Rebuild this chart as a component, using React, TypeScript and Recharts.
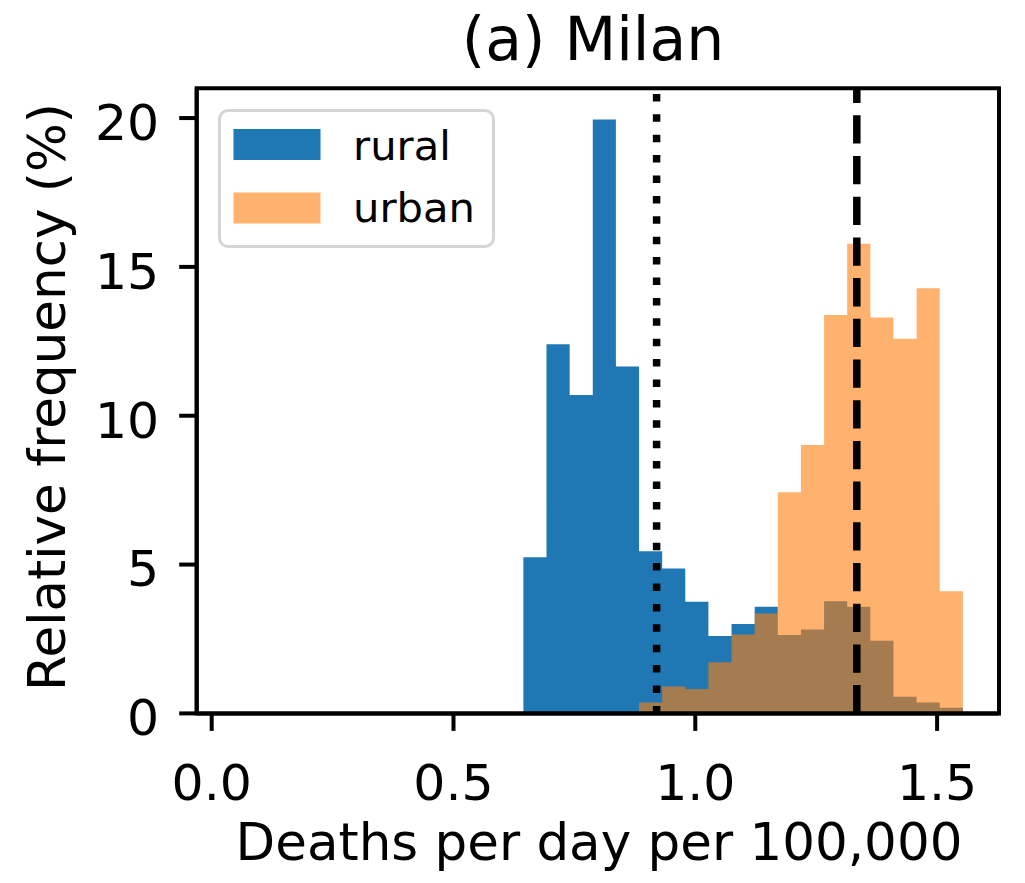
import React from 'react';
import {
  ComposedChart,
  Area,
  XAxis,
  YAxis,
  ReferenceLine,
  ReferenceArea,
  Legend,
} from 'recharts';

// ---- data ----
const binEdges = [
  0.6445, 0.6923, 0.7402, 0.788, 0.8358, 0.8837, 0.9315, 0.9793, 1.0271, 1.075,
  1.1228, 1.1706, 1.2185, 1.2663, 1.3141, 1.362, 1.4098, 1.4576, 1.5054, 1.5533,
];
const ruralPct = [
  5.25, 12.4, 10.7, 19.95, 11.65, 5.45, 4.87, 3.75, 2.6, 3.0, 3.58, 2.63, 2.82, 3.77,
  3.58, 2.44, 0.56, 0.37, 0.19,
];
const urbanPct = [
  0, 0, 0, 0, 0, 0.37, 0.9, 0.82, 1.72, 2.65, 3.36, 7.43, 9.02, 13.38, 15.78, 13.3,
  12.59, 14.28, 4.1,
];
const seriesNames = ['rural', 'urban'];
const xTicks = [0, 0.5, 1.0, 1.5];
const yTicks = [0, 5, 10, 15, 20];
const ruralMarker = 0.92;
const urbanMarker = 1.334;
const XMIN = -0.031;
const XMAX = 1.628;
const YMAX = 21;

const TITLE = '(a) Milan';
const XLABEL = 'Deaths per day per 100,000';
const YLABEL = 'Relative frequency (%)';

const rows = binEdges.map((x, i) => ({
  x,
  rural: ruralPct[i] ?? 0,
  urban: urbanPct[i] ?? 0,
}));

const BLUE = '#1f77b4';
const ORANGE = '#ff7f0e';
const FONT = 'DejaVu Sans';

const W = 1025;
const H = 883;

function LegendBox() {
  const colors = [BLUE, ORANGE];
  const opac = [1, 0.6];
  return (
    <div
      style={{
        position: 'relative',
        width: 277.5,
        height: 139,
        boxSizing: 'border-box',
        border: '3px solid #d5d5d5',
        borderRadius: 10,
        background: 'rgba(255,255,255,0.8)',
      }}
    >
      <svg
        width={277.5}
        height={139}
        style={{ position: 'absolute', left: -3, top: -3, overflow: 'visible' }}
      >
        {seriesNames.map((name, i) => (
          <g key={name}>
            <rect
              x={15.5}
              y={20 + i * 63.5}
              width={87}
              height={31}
              fill={colors[i]}
              fillOpacity={opac[i]}
            />
            <text
              x={135}
              y={51 + i * 62.2}
              fontSize={41.7}
              fontFamily={FONT}
              fill="#000"
            >
              {name}
            </text>
          </g>
        ))}
      </svg>
    </div>
  );
}

export default function App() {
  return (
    <div
      style={{
        position: 'absolute',
        left: 0,
        top: 0,
        width: W,
        height: H,
        background: '#fff',
        fontFamily: FONT,
      }}
    >
      <ComposedChart
        width={W}
        height={H}
        data={rows}
        margin={{ top: 88.3, right: 26, left: 0, bottom: 0 }}
      >
        <XAxis
          dataKey="x"
          type="number"
          domain={[XMIN, XMAX]}
          allowDataOverflow
          ticks={xTicks}
          tickFormatter={(v: number) => v.toFixed(1)}
          height={169.6}
          tickSize={17.5}
          tickMargin={33}
          axisLine={{ stroke: '#000', strokeWidth: 4 }}
          tickLine={{ stroke: '#000', strokeWidth: 4 }}
          tick={{ fill: '#000', fontSize: 50.5, fontFamily: FONT }}
          interval={0}
        />
        <YAxis
          type="number"
          domain={[0, YMAX]}
          allowDataOverflow
          ticks={yTicks}
          width={196.7}
          tickSize={17.5}
          tickMargin={20}
          axisLine={{ stroke: '#000', strokeWidth: 4 }}
          tickLine={{ stroke: '#000', strokeWidth: 4 }}
          tick={{ fill: '#000', fontSize: 50.5, fontFamily: FONT, dy: 4 }}
          interval={0}
        />
        <Area
          type="stepAfter"
          dataKey="rural"
          name={seriesNames[0]}
          fill={BLUE}
          fillOpacity={1}
          stroke="none"
          dot={false}
          activeDot={false}
          isAnimationActive={false}
        />
        <Area
          type="stepAfter"
          dataKey="urban"
          name={seriesNames[1]}
          fill={ORANGE}
          fillOpacity={0.6}
          stroke="none"
          dot={false}
          activeDot={false}
          isAnimationActive={false}
        />
        <ReferenceLine
          x={ruralMarker}
          stroke="#000"
          strokeWidth={7.5}
          strokeDasharray="7.5 12.9"
        />
        <ReferenceLine
          x={urbanMarker}
          stroke="#000"
          strokeWidth={7.5}
          strokeDasharray="28.3 12.4"
        />
        <ReferenceArea
          x1={XMIN}
          x2={XMAX}
          y1={0}
          y2={YMAX}
          fill="none"
          stroke="#000"
          strokeWidth={4}
          ifOverflow="visible"
        />
        <Legend
          layout="horizontal"
          verticalAlign="middle"
          align="center"
          width={277.5}
          height={139}
          wrapperStyle={{ left: 217.5, top: 109, width: 277.5, height: 139 }}
          content={() => <LegendBox />}
        />
      </ComposedChart>
      <svg
        width={W}
        height={H}
        style={{ position: 'absolute', left: 0, top: 0, pointerEvents: 'none' }}
      >
        <text
          x={593}
          y={59.5}
          textAnchor="middle"
          fontSize={60}
          fontFamily={FONT}
          fill="#000"
        >
          {TITLE}
        </text>
        <text
          x={599}
          y={860}
          textAnchor="middle"
          fontSize={51.5}
          fontFamily={FONT}
          fill="#000"
        >
          {XLABEL}
        </text>
        <text
          x={65}
          y={397}
          textAnchor="middle"
          fontSize={51.5}
          fontFamily={FONT}
          fill="#000"
          transform="rotate(-90 65 397)"
        >
          {YLABEL}
        </text>
      </svg>
    </div>
  );
}
